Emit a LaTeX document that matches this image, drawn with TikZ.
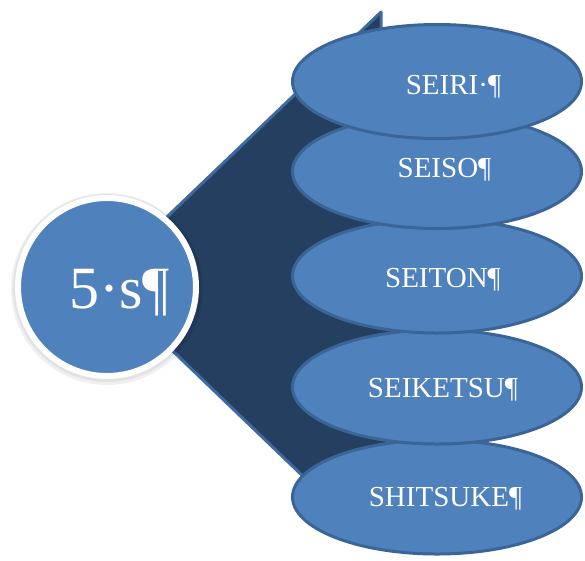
\documentclass[tikz,border=0pt]{standalone}
\usepackage{fontspec}
\setmainfont{Liberation Serif}
\usetikzlibrary{positioning, calc, shapes}
\definecolor{sblue}{HTML}{4F81BD}
\definecolor{sline}{HTML}{3A6596}
\definecolor{sdark}{HTML}{243F60}
\definecolor{sedge}{HTML}{3E69A1}
\tikzset{sstep/.style={ellipse, fill=sblue, draw=sline, line width=3pt, minimum width=289pt, minimum height=114pt, inner sep=0pt}}
\tikzset{slabel/.style={anchor=base, text=white, inner sep=0pt, font=\fontsize{29}{29}\selectfont}}

\begin{document}
\begin{tikzpicture}[x=1pt, y=-1pt]
          \useasboundingbox (0,0) rectangle (585,560);
          \clip (0,0) rectangle (585,560);

          % dark wedge behind the ellipses
          \fill[sdark] (381,12) -- (381,60) -- (400,70) -- (400,480) -- (362,533) -- (100,281) -- cycle;
          \draw[sedge, line width=3pt, line join=round] (381,60) -- (381,12) -- (100,281) -- (362,533);

          \fill[black, opacity=0.06] (107,289) circle (96);
          \fill[black, opacity=0.06] (107,288) circle (94);
          \node[circle, fill=sblue, draw=white, line width=6pt, minimum size=178pt, inner sep=0pt] (core) at (107,287) {};
          \node[anchor=base, text=white, inner sep=0pt, font=\fontsize{60}{60}\selectfont] (labelcore) at ($(core)+(12.5,21)$) {5·s¶};

          \node[sstep] (shitsuke) at (437,497) {};
          \node[slabel] (labelshitsuke) at ($(shitsuke)+(8.5,9)$) {SHITSUKE¶};

          \node[sstep] (seiketsu) at (437,387) {};
          \node[slabel] (labelseiketsu) at ($(seiketsu)+(6,10)$) {SEIKETSU¶};

          \node[sstep] (seiton) at (437,276) {};
          \node[slabel] (labelseiton) at ($(seiton)+(6,11)$) {SEITON¶};

          \node[sstep] (seiso) at (437,171.5) {};
          \node[slabel] (labelseiso) at ($(seiso)+(7.5,5.5)$) {SEISO¶};

          \node[sstep] (seiri) at (437,81.5) {};
          \node[slabel] (labelseiri) at ($(seiri)+(16.5,12.5)$) {SEIRI·¶};
        \end{tikzpicture}
\end{document}
